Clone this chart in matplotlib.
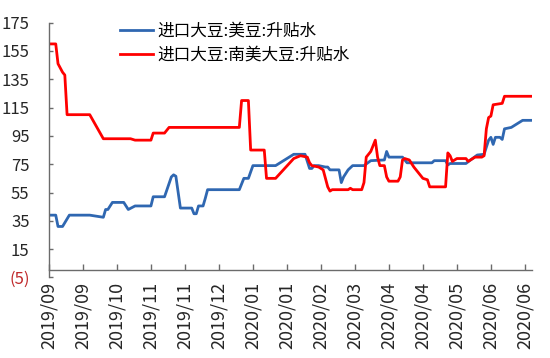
#!/usr/bin/env python3
"""
Imported soybean basis: US soybean vs South American soybean.
x axis is a trading-day index, labelled every 15 days.
"""
import matplotlib

matplotlib.use("Agg")
import matplotlib.pyplot as plt

# trading-day index / basis values read at the line vertices
us_days = [0, 3, 4, 6, 9, 18, 24, 25, 26, 28, 33, 35, 38, 45, 46, 51, 54, 55,
           56, 58, 63, 64, 65, 66, 68, 69, 70, 84, 86, 88, 90, 100, 108, 113,
           115, 116, 117, 119, 122, 123, 124, 128, 129, 130, 132, 134, 139,
           142, 148, 149, 150, 156, 158, 169, 170, 175, 176, 177, 184, 186,
           189, 192, 194, 195, 196, 197, 199, 200, 201, 204, 206, 209, 213]
us_basis = [39, 39, 31, 31, 39, 39, 37.5, 43, 43, 48, 48, 43, 45.5, 45.5, 52,
            52, 66, 67.5, 66.5, 44, 44, 40, 40, 45.5, 45.5, 51, 57, 57, 65, 65,
            74, 74, 82, 82, 72, 72, 74, 74, 73, 73, 71, 71, 62, 66, 71, 74, 74,
            77.5, 78, 84, 80, 80, 76, 76, 77.5, 77.5, 74.5, 75.5, 75.5, 78,
            81.5, 82, 92, 94, 89, 94, 94, 92.5, 100, 101, 103, 106, 106]

sa_days = [0, 3, 4, 5, 6, 7, 8, 18, 24, 36, 38, 45, 46, 51, 53, 84, 85, 88,
           89, 95, 96, 100, 108, 111, 114, 115, 116, 119, 121, 123, 124, 125,
           132, 133, 134, 138, 139, 140, 142, 144, 145, 146, 148, 149, 150,
           154, 155, 156, 157, 159, 161, 164, 165, 167, 168, 175, 176, 177,
           178, 180, 184, 185, 186, 188, 191, 192, 193, 194, 195, 196, 200,
           201, 213]
sa_basis = [160, 160, 146, 143, 140, 138, 110, 110, 93, 93, 92, 92, 97, 97,
            101, 101, 120, 120, 85, 85, 65, 65, 79, 81, 80, 76, 74, 73, 71, 59,
            56, 57, 57, 58, 57, 57, 62, 80, 84, 92, 80, 74, 74, 66, 63, 63, 66,
            78, 79, 78, 73, 67, 65, 64, 59, 59, 83, 81, 77, 79, 79, 77, 78, 80,
            80, 81, 100, 108, 109, 117, 118, 123, 123]

date_labels = ["2019/09", "2019/09", "2019/10", "2019/11", "2019/11",
               "2019/12", "2020/01", "2020/01", "2020/02", "2020/03",
               "2020/04", "2020/04", "2020/05", "2020/06", "2020/06"]
y_ticks = [-5, 15, 35, 55, 75, 95, 115, 135, 155, 175]

plt.rcParams["font.family"] = ["Noto Sans CJK SC", "DejaVu Sans"]

fig = plt.figure(figsize=(5.5, 3.58), dpi=100)
ax = fig.add_axes([0.089, 0.2251, 0.8777, 0.7115])

ax.plot(us_days, us_basis, color="#2f67b1", lw=2.0, label="进口大豆:美豆:升贴水")
ax.plot(sa_days, sa_basis, color="#ff0000", lw=2.0, label="进口大豆:南美大豆:升贴水")

ax.set_xlim(0, 213)
ax.set_ylim(-5, 175)

ax.spines["top"].set_visible(False)
ax.spines["right"].set_visible(False)
ax.spines["bottom"].set_position(("data", 0))
for side in ("left", "bottom"):
    ax.spines[side].set_color("#6b6b6b")
    ax.spines[side].set_linewidth(1.0)

ax.set_xticks(range(0, 15 * len(date_labels), 15))
ax.set_xticklabels(date_labels, rotation=90, va="top", ha="center")
ax.tick_params(axis="x", direction="in", length=4, width=1.0, color="#6b6b6b",
               pad=8, labelsize=13, labelcolor="#262626")

ax.set_yticks(y_ticks)
ax.set_yticklabels(["(5)"] + [str(v) for v in y_ticks[1:]])
ax.tick_params(axis="y", direction="in", length=3, width=1.0, color="#6b6b6b",
               pad=14, labelsize=12, labelcolor="#262626")
ax.get_yticklabels()[0].set_color("#c0292b")

ax.legend(loc="upper left", bbox_to_anchor=(0.218, 0.937),
          bbox_transform=fig.transFigure, frameon=False, fontsize=12,
          handlelength=2.0, handletextpad=0.25, labelspacing=0.45,
          borderpad=0, borderaxespad=0)

fig.savefig("out.png", dpi=100)
